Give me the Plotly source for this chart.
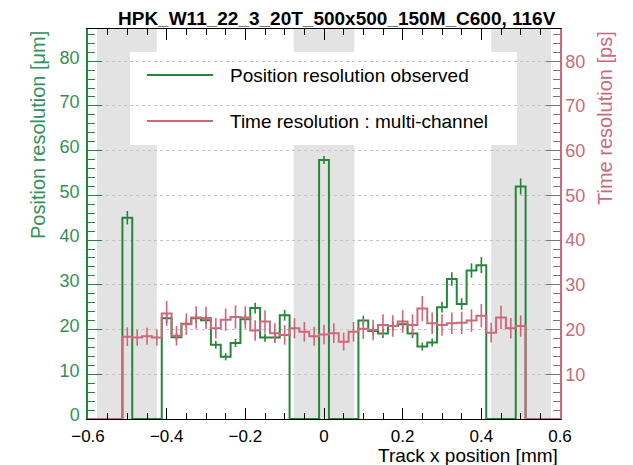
import numpy as np
import plotly.graph_objects as go

# ---------------- data ----------------
BIN_WIDTH = 0.025
track_x = np.round(np.arange(-0.5, 0.5 + 1e-9, BIN_WIDTH), 4)  # bin centres [mm]

pos_res = [45.0, 0, 0, 0, 22.5, 18.3, 21.3, 22.5, 22.1, 16.6,
           13.9, 17.0, 22.3, 24.8, 18.2, 18.2, 23.2, 0, 0, 0,
           57.9, 0, 0, 0, 22.0, 19.7, 19.1, 20.8, 21.2, 19.1,
           16.2, 17.1, 25.0, 31.3, 25.7, 33.2, 34.4, 0, 0, 0,
           52.0]
pos_err = [1.5, 0, 0, 0, 1.0, 0.9, 1.0, 1.0, 1.0, 0.9,
           0.8, 0.9, 1.1, 1.2, 0.9, 0.9, 1.2, 0, 0, 0,
           0.9, 0, 0, 0, 1.1, 1.0, 1.0, 1.0, 1.0, 1.0,
           0.9, 0.9, 1.2, 1.5, 1.3, 1.6, 1.8, 0, 0, 0,
           1.8]

time_res = [18.4, 18.2, 18.5, 18.2, 23.6, 18.6, 21.2, 22.7, 22.6, 20.3,
            22.2, 22.8, 22.7, 19.8, 21.8, 19.2, 18.8, 20.3, 19.5, 18.5,
            18.9, 19.2, 17.3, 19.5, 20.2, 19.9, 21.0, 20.8, 21.8, 21.0,
            24.7, 21.4, 21.0, 21.4, 21.5, 22.0, 23.1, 19.3, 22.7, 20.3,
            20.8]
time_err = [2.1, 1.8, 1.9, 1.8, 2.8, 2.2, 2.4, 2.5, 2.5, 2.3,
            2.5, 2.6, 2.5, 2.3, 2.5, 2.2, 2.2, 2.3, 2.2, 2.1,
            2.2, 2.2, 2.0, 2.2, 2.3, 2.3, 2.4, 2.4, 2.5, 2.4,
            2.8, 2.4, 2.4, 2.4, 2.5, 2.5, 2.6, 2.2, 2.6, 2.3,
            2.4]

gap_regions = [(-0.577, -0.425), (-0.077, 0.077), (0.425, 0.577)]  # grey bands [mm]

x_range = [-0.6, 0.6]
y_range = [0, 87.2]

title_text = "HPK_W11_22_3_20T_500x500_150M_C600, 116V"
legend_labels = ["Position resolution observed", "Time resolution : multi-channel"]

# ---------------- styles ----------------
GREEN = "#25863a"
GREEN_TXT = "#33905a"
PINK = "#d0667a"
PINK_TXT = "#c96a7d"
GRAY_BAND = "#e3e3e3"
FONT = "Liberation Sans, Arial, sans-serif"


def step_xy(centers, vals):
    left = [c - BIN_WIDTH / 2 for c in centers]
    xs = [x_range[0]] + left + [centers[-1] + BIN_WIDTH / 2, x_range[1]]
    ys = [0] + list(vals) + [0, 0]
    return xs, ys


fig = go.Figure()

# step histograms with vertical error bars
for vals, errs, col, yax in [(pos_res, pos_err, GREEN, "y"), (time_res, time_err, PINK, "y2")]:
    xs, ys = step_xy(list(track_x), vals)
    fig.add_trace(go.Scatter(x=xs, y=ys, mode="lines", line=dict(color=col, width=2, shape="hv"),
                             showlegend=False, hoverinfo="skip", yaxis=yax))
    ex = [x for x, v in zip(track_x, vals) if v > 0]
    ey = [v for v in vals if v > 0]
    ee = [e for e, v in zip(errs, vals) if v > 0]
    fig.add_trace(go.Scatter(x=ex, y=ey, mode="markers", marker=dict(size=1, color=col, opacity=0),
                             error_y=dict(type="data", array=ee, visible=True, color=col,
                                          thickness=1.6, width=0),
                             showlegend=False, hoverinfo="skip", yaxis=yax))

shapes = []
for x0, x1 in gap_regions:
    shapes.append(dict(type="rect", xref="x", yref="paper", x0=x0, x1=x1, y0=0, y1=1,
                       fillcolor=GRAY_BAND, line=dict(width=0), layer="below"))

W, H = 633, 465
ml, mr, mt, mb = 88, 73, 29, 46
pw, ph = W - ml - mr, H - mt - mb


def px(xp):
    return (xp - ml) / pw


def py(yp):
    return (H - mb - yp) / ph


# legend box (ROOT style, no border)
shapes.append(dict(type="rect", xref="paper", yref="paper", x0=px(130), x1=px(517),
                   y0=py(145), y1=py(52), fillcolor="white", line=dict(width=0), layer="between"))
annotations = []
for i, (lab, col) in enumerate(zip(legend_labels, [GREEN, PINK])):
    yy = py(75 + 46 * i)
    shapes.append(dict(type="line", xref="paper", yref="paper", x0=px(147), x1=px(213),
                       y0=yy, y1=yy, line=dict(color=col, width=2), layer="above"))
    annotations.append(dict(xref="paper", yref="paper", x=px(228), y=yy, text=lab,
                            showarrow=False, xanchor="left", yanchor="middle",
                            font=dict(size=19, color="black", family=FONT)))

annotations += [
    dict(xref="paper", yref="paper", x=px(558), y=py(18), text="<b>%s</b>" % title_text,
         showarrow=False, xanchor="right", yanchor="middle",
         font=dict(size=19, color="black", family=FONT)),
    dict(xref="paper", yref="paper", x=px(38), y=py(135), text="Position resolution [\u03bcm]",
         textangle=-90, showarrow=False, xanchor="center", yanchor="middle",
         font=dict(size=20, color=GREEN_TXT, family=FONT)),
    dict(xref="paper", yref="paper", x=px(605), y=py(118), text="Time resolution [ps]",
         textangle=-90, showarrow=False, xanchor="center", yanchor="middle",
         font=dict(size=20, color=PINK_TXT, family=FONT)),
    dict(xref="paper", yref="paper", x=px(560), y=py(455), text="Track x position [mm]",
         showarrow=False, xanchor="right", yanchor="middle",
         font=dict(size=19, color="black", family=FONT)),
]

fig.update_layout(
    width=W, height=H,
    margin=dict(l=ml, r=mr, t=mt, b=mb, pad=0),
    paper_bgcolor="white", plot_bgcolor="white",
    showlegend=False,
    font=dict(family=FONT, size=18),
    shapes=shapes, annotations=annotations,
    xaxis=dict(range=x_range, dtick=0.2, tick0=0, ticks="inside", ticklen=11, tickwidth=1,
               tickcolor="black", showline=True, linecolor="black", linewidth=1,
               mirror="ticks", showgrid=False, zeroline=False, ticklabelstandoff=2,
               tickfont=dict(size=17, color="black"),
               minor=dict(dtick=0.05, ticks="inside", ticklen=6, tickcolor="black", showgrid=False)),
    yaxis=dict(range=y_range, dtick=10, tick0=0, ticks="inside", ticklen=14, tickwidth=1,
               tickcolor=GREEN, showline=True, linecolor=GREEN, linewidth=1.5,
               showgrid=True, gridcolor="#c4c4c4", griddash="dot", gridwidth=1,
               zeroline=False, tickfont=dict(size=18, color=GREEN_TXT),
               ticklabelstandoff=3, ticklabelshift=-4,
               minor=dict(dtick=2, ticks="inside", ticklen=7, tickcolor=GREEN, showgrid=False)),
    yaxis2=dict(range=y_range, overlaying="y", side="right",
                tickvals=[10, 20, 30, 40, 50, 60, 70, 80], ticks="inside", ticklen=14,
                tickcolor="#777777", showline=True, linecolor=PINK, linewidth=1.5,
                showgrid=False, zeroline=False, tickfont=dict(size=18, color=PINK_TXT),
                minor=dict(dtick=2, ticks="inside", ticklen=7, tickcolor="#777777", showgrid=False)),
)

fig.write_html("out.html")
